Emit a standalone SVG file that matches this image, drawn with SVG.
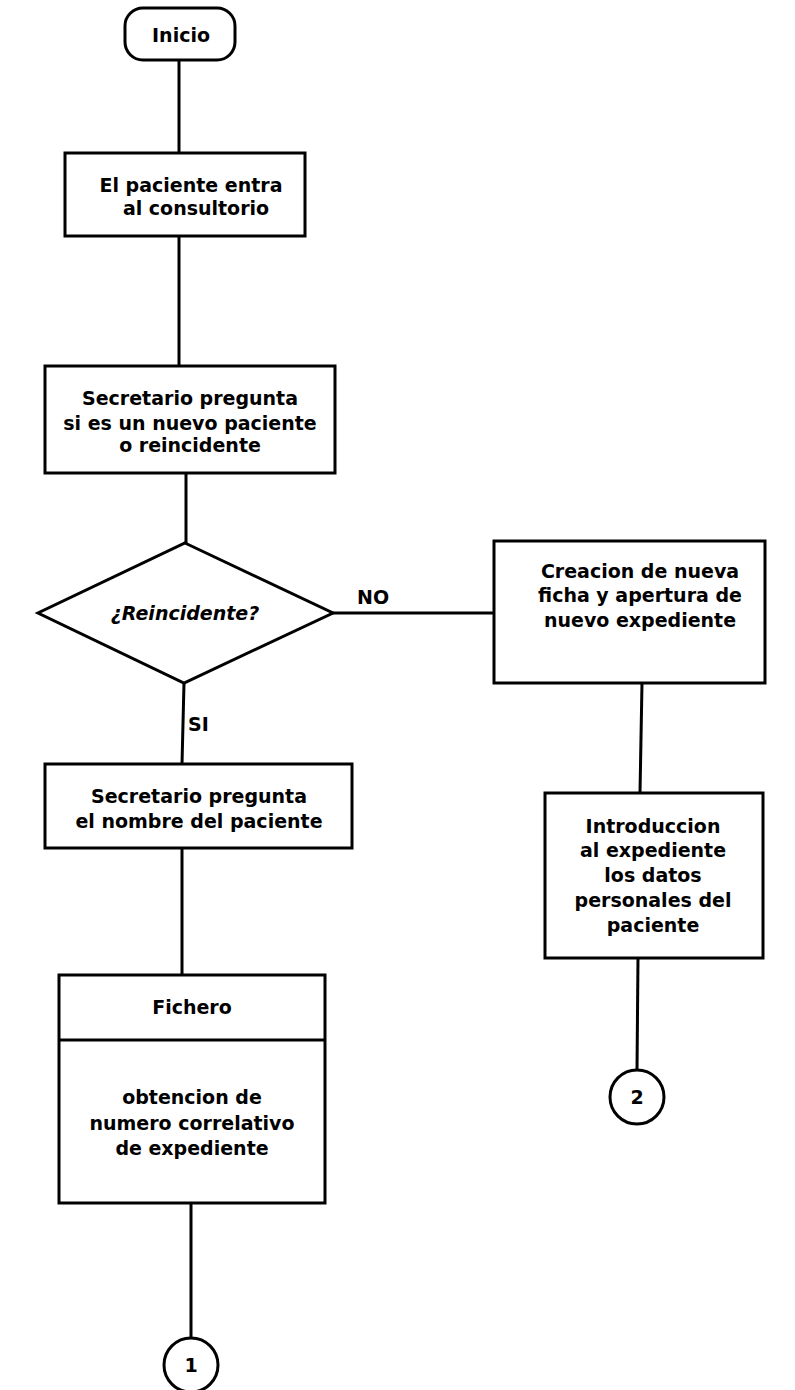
<svg xmlns="http://www.w3.org/2000/svg" width="795" height="1390" viewBox="0 0 795 1390">
<style>
  .shape { fill: #ffffff; stroke: #000000; stroke-width: 3; }
  .conn { fill: none; stroke: #000000; stroke-width: 3; }
  text { font-family: "DejaVu Sans", "Liberation Sans", sans-serif; font-weight: bold; font-size: 19px; fill: #000000; text-anchor: middle; }
  .lbl { text-anchor: start; }
  .it { font-style: italic; }
</style>
<rect width="795" height="1390" fill="#ffffff"/>
<g id="connectors">
  <line class="conn" x1="179" y1="60" x2="179" y2="153"/>
  <line class="conn" x1="179" y1="236" x2="179" y2="366"/>
  <line class="conn" x1="186" y1="473" x2="186" y2="543"/>
  <line class="conn" x1="333" y1="613" x2="494" y2="613"/>
  <line class="conn" x1="184" y1="683" x2="182" y2="764"/>
  <line class="conn" x1="642" y1="683" x2="640" y2="793"/>
  <line class="conn" x1="638" y1="958" x2="637" y2="1070"/>
  <line class="conn" x1="182" y1="848" x2="182" y2="975"/>
  <line class="conn" x1="191" y1="1203" x2="191" y2="1338"/>
  <text class="lbl" x="357" y="604">NO</text>
  <text class="lbl" x="188" y="731">SI</text>
</g>
<g id="inicio">
  <rect class="shape" x="125" y="8" width="110" height="52" rx="18"/>
  <text x="181" y="42">Inicio</text>
</g>
<g id="entra">
  <rect class="shape" x="65" y="153" width="240" height="83"/>
  <text x="191" y="192">El paciente entra</text>
  <text x="196" y="215">al consultorio</text>
</g>
<g id="pregunta">
  <rect class="shape" x="45" y="366" width="290" height="107"/>
  <text x="190" y="405">Secretario pregunta</text>
  <text x="190" y="430">si es un nuevo paciente</text>
  <text x="190" y="452">o reincidente</text>
</g>
<g id="reincidente">
  <polygon class="shape" points="185,543 333,613 184,683 38,613"/>
  <text class="it" x="185" y="620">¿Reincidente?</text>
</g>
<g id="creacion">
  <rect class="shape" x="494" y="541" width="271" height="142"/>
  <text x="640" y="578">Creacion de nueva</text>
  <text x="640" y="602">ficha y apertura de</text>
  <text x="640" y="627">nuevo expediente</text>
</g>
<g id="introduccion">
  <rect class="shape" x="545" y="793" width="218" height="165"/>
  <text x="653" y="833">Introduccion</text>
  <text x="653" y="857">al expediente</text>
  <text x="653" y="882">los datos</text>
  <text x="653" y="907">personales del</text>
  <text x="653" y="932">paciente</text>
</g>
<g id="nombre">
  <rect class="shape" x="45" y="764" width="307" height="84"/>
  <text x="199" y="803">Secretario pregunta</text>
  <text x="199" y="828">el nombre del paciente</text>
</g>
<g id="fichero">
  <rect class="shape" x="59" y="975" width="266" height="228"/>
  <line class="conn" x1="59" y1="1040" x2="325" y2="1040"/>
  <text x="192" y="1014">Fichero</text>
  <text x="192" y="1104">obtencion de</text>
  <text x="192" y="1130">numero correlativo</text>
  <text x="192" y="1155">de expediente</text>
</g>
<g id="conector2">
  <circle class="shape" cx="637" cy="1097" r="27"/>
  <text x="637" y="1104">2</text>
</g>
<g id="conector1">
  <circle class="shape" cx="191" cy="1365" r="27"/>
  <text x="191" y="1372">1</text>
</g>
</svg>
